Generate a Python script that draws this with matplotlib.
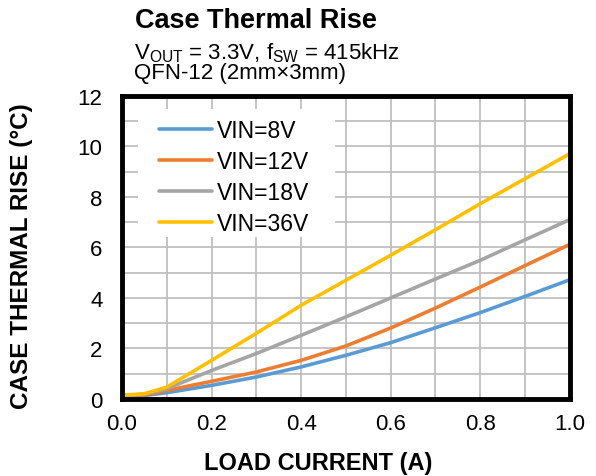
import matplotlib
matplotlib.use("Agg")
import matplotlib.pyplot as plt
from matplotlib.ticker import MultipleLocator, FormatStrFormatter
from matplotlib.patches import Rectangle

plt.rcParams['font.family'] = ['Liberation Sans', 'DejaVu Sans']

load_current = [0.0, 0.05, 0.1, 0.2, 0.3, 0.4, 0.5, 0.6, 0.7, 0.8, 0.9, 1.0]
vin_8v = [0.12, 0.14, 0.25, 0.54, 0.87, 1.27, 1.73, 2.23, 2.82, 3.42, 4.06, 4.72]
vin_12v = [0.12, 0.16, 0.34, 0.70, 1.07, 1.53, 2.10, 2.81, 3.60, 4.43, 5.28, 6.12]
vin_18v = [0.13, 0.19, 0.41, 1.13, 1.80, 2.52, 3.25, 4.00, 4.75, 5.49, 6.30, 7.10]
vin_36v = [0.15, 0.21, 0.47, 1.53, 2.60, 3.71, 4.70, 5.69, 6.70, 7.73, 8.72, 9.71]

series = [
    ("VIN=8V", vin_8v, "#5b9bd5"),
    ("VIN=12V", vin_12v, "#ed7d31"),
    ("VIN=18V", vin_18v, "#a5a5a5"),
    ("VIN=36V", vin_36v, "#ffc000"),
]

fig = plt.figure(figsize=(5.96, 4.77), dpi=100)
ax = fig.add_axes([0.2047, 0.1614, 0.956 - 0.2047, 0.797 - 0.1614])

# white legend background area
ax.add_patch(Rectangle((0.0357, 0.535), 0.44, 0.4224, transform=ax.transAxes,
                       facecolor='white', edgecolor='none', zorder=1))

for label, vals, color in series:
    ax.plot(load_current, vals, color=color, lw=2.6, label=label, solid_capstyle='round', zorder=2)

ax.set_xlim(0, 1.0)
ax.set_ylim(0, 12)
ax.xaxis.set_major_locator(MultipleLocator(0.2))
ax.xaxis.set_minor_locator(MultipleLocator(0.1))
ax.yaxis.set_major_locator(MultipleLocator(2))
ax.yaxis.set_minor_locator(MultipleLocator(1))
ax.xaxis.set_major_formatter(FormatStrFormatter('%.1f'))
ax.grid(which='both', color='#bfbfbf', lw=1.3, zorder=0.5)
ax.set_axisbelow(True)
ax.tick_params(which='both', length=0, labelsize=16)
ax.tick_params(axis='x', pad=10)
ax.tick_params(axis='y', pad=14)

for s in ax.spines.values():
    s.set_linewidth(3.5)
    s.set_color('black')

ax.set_xlabel("LOAD CURRENT (A)", fontsize=17, fontweight='bold')
ax.xaxis.set_label_coords(0.4375, -0.172)
ax.set_ylabel("CASE THERMAL RISE (°C)", fontsize=17.5, fontweight='bold')
ax.yaxis.set_label_coords(-0.199, 0.474)

fig.text(0.2265, 0.9407, "Case Thermal Rise", fontsize=19.5, fontweight='bold', ha='left', va='baseline')
fig.text(0.2245, 0.913,
         "V$_{\\mathregular{OUT}}$ = 3.3V, f$_{\\mathregular{SW}}$ = 415kHz\nQFN-12 (2mm×3mm)",
         fontsize=16, ha='left', va='top', linespacing=0.88)

leg = ax.legend(loc='upper left', bbox_to_anchor=(0.0425, 0.984), fontsize=16.5,
                frameon=False,
                handlelength=2.3, handletextpad=0.2, labelspacing=0.35, borderpad=0.3)

fig.savefig("out.png", dpi=100)
